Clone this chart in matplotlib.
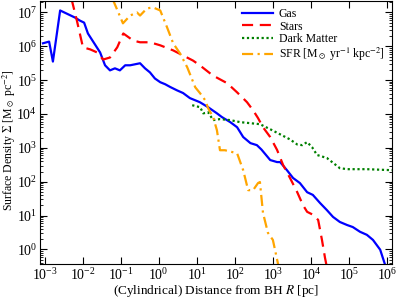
import numpy as np
import matplotlib
matplotlib.use("Agg")
import matplotlib.pyplot as plt

plt.rcParams['font.family'] = ['Liberation Serif', 'DejaVu Serif']
plt.rcParams['mathtext.fontset'] = 'stix'

# log10 values
gas_logR = [-3.04, -2.88, -2.78, -2.59, -2.20, -2.07, -1.96, -1.86, -1.54, -1.41, -1.28, -1.15,
            -1.02, -0.88, -0.75, -0.49, -0.36, -0.23, -0.10, 0.04, 0.17, 0.30, 0.48, 0.64, 0.82,
            1.08, 1.30, 1.53, 1.66, 1.88, 2.06, 2.22, 2.41, 2.58, 2.70, 2.93, 3.11, 3.19, 3.37,
            3.53, 3.71, 3.90, 4.05, 4.24, 4.42, 4.58, 4.76, 4.95, 5.10, 5.29, 5.47, 5.63, 5.82, 5.95]
gas_logS = [6.09, 6.14, 5.55, 7.06, 6.85, 6.76, 6.70, 6.38, 5.82, 5.44, 5.29, 5.35,
            5.29, 5.44, 5.44, 5.50, 5.35, 5.23, 5.05, 4.94, 4.88, 4.80, 4.70, 4.62, 4.47,
            4.35, 4.20, 4.02, 3.91, 3.76, 3.61, 3.32, 3.14, 3.08, 2.95, 2.64, 2.58, 2.58, 2.34,
            2.11, 1.96, 1.69, 1.61, 1.37, 1.16, 0.96, 0.81, 0.72, 0.66, 0.52, 0.43, 0.28, -0.01, -0.46]

stars_logR = [-2.40, -2.28, -2.15, -1.99, -1.80, -1.62, -1.46, -1.28, -1.09, -0.93, -0.67, -0.49,
              -0.23, 0.04, 0.38, 0.64, 0.90, 1.08, 1.42, 1.80, 2.06, 2.32, 2.48, 2.61, 2.74, 2.93,
              3.11, 3.27, 3.45, 3.64, 3.79, 3.90, 4.06, 4.19, 4.29, 4.37, 4.45]
stars_logS = [7.80, 7.35, 6.76, 5.97, 5.91, 5.82, 5.61, 5.67, 5.97, 6.38, 6.17, 6.12,
              6.12, 6.03, 5.88, 5.73, 5.58, 5.44, 5.14, 4.91, 4.64, 4.35, 4.11, 3.88, 3.61, 3.32,
              2.94, 2.49, 2.11, 1.69, 1.31, 1.11, 1.02, 0.87, 0.28, -0.25, -0.70]

dm_logR = [0.88, 1.09, 1.17, 1.30, 1.43, 1.61, 1.88, 2.14, 2.40, 2.66, 2.93, 3.19, 3.45, 3.64,
           3.77, 3.90, 4.03, 4.16, 4.42, 4.76, 4.95, 5.47, 6.13]
dm_logS = [4.26, 4.20, 4.02, 4.05, 3.82, 3.85, 3.82, 3.76, 3.73, 3.70, 3.55, 3.40, 3.25, 3.10,
           3.08, 3.17, 3.02, 2.79, 2.70, 2.40, 2.37, 2.37, 2.34]

sfr_logR = [-1.40, -0.94, -0.75, -0.57, -0.49, -0.31, -0.15, 0.04, 0.22, 0.38, 0.56, 0.75, 0.96,
            1.09, 1.22, 1.30, 1.43, 1.53, 1.61, 1.74, 2.06, 2.22, 2.35, 2.48, 2.61, 2.66, 2.74,
            2.87, 3.00, 3.13, 3.20]
sfr_logS = [7.90, 6.68, 6.91, 7.00, 6.91, 7.12, 7.15, 7.06, 6.56, 6.09, 5.79, 5.38, 4.79,
            4.61, 4.41, 4.17, 3.91, 3.52, 2.93, 2.93, 2.84, 2.34, 1.75, 1.75, 1.96, 1.99, 1.08,
            0.49, 0.28, -0.40, -0.80]

fig = plt.figure(figsize=(3.99, 3.0), dpi=100)
ax = fig.add_axes([40/399, 1 - 264/300, (392-40)/399, 264/300 - 0.003])

def p(lr, ls):
    return 10**np.array(lr), 10**np.array(ls)

ax.plot(*p(gas_logR, gas_logS), color='b', lw=1.6, ls='-', label='Gas')
ax.plot(*p(stars_logR, stars_logS), color='r', lw=1.6, ls=(0, (5, 3)), label='Stars')
ax.plot(*p(dm_logR, dm_logS), color='g', lw=1.6, ls=(0, (1, 1.2)), label='Dark Matter')
ax.plot(*p(sfr_logR, sfr_logS), color='orange', lw=1.6, ls=(0, (5, 2, 1, 2)),
        label=r'SFR [M$_\odot$ yr$^{-1}$ kpc$^{-2}$]')

ax.set_xscale('log')
ax.set_yscale('log')
ax.set_xlim(7.6e-4, 1.35e6)
ax.set_ylim(0.37, 2.2e7)
ax.set_xticks([10.0**k for k in range(-3, 7)])
ax.set_yticks([10.0**k for k in range(0, 8)])
ax.tick_params(which='both', direction='in', top=True, right=True, labelsize=10)
ax.tick_params(which='major', length=5)
ax.tick_params(which='minor', length=2.5)
ax.tick_params(axis='x', pad=2)
ax.tick_params(axis='y', pad=2)
ax.set_xlabel(r'(Cylindrical) Distance from BH $R$ [pc]', fontsize=9.5)
ax.set_ylabel(r'Surface Density $\Sigma$ [M$_\odot$ pc$^{-2}$]', fontsize=8.5)
ax.xaxis.set_label_coords(0.5, -0.074)
ax.yaxis.set_label_coords(-0.063, 0.47)
ax.legend(loc='upper right', frameon=False, fontsize=8.5, handlelength=2.6,
          handletextpad=0.5, borderaxespad=0.2, labelspacing=0.05)

fig.savefig('out.png', dpi=100)
